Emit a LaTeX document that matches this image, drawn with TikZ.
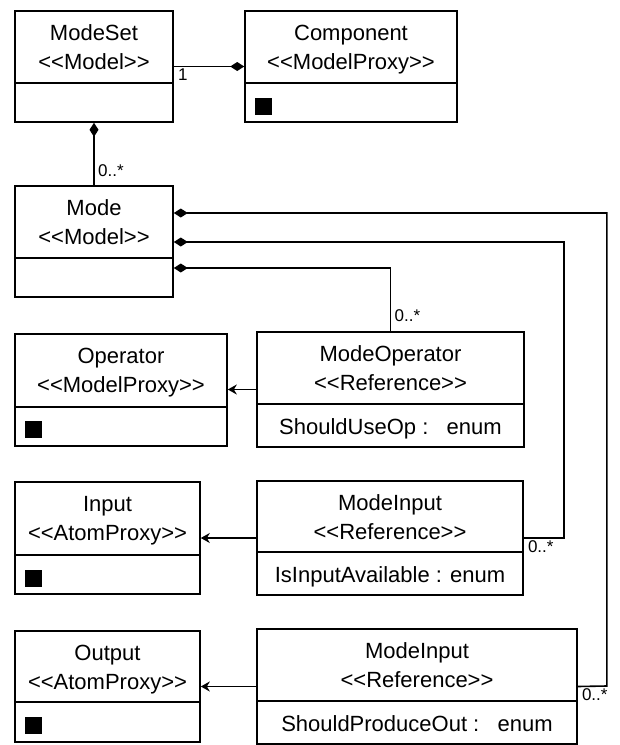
\documentclass[tikz,border=0pt]{standalone}
\usepackage{fontspec}
\setmainfont{Liberation Sans}
\usepackage{tikz}
\usetikzlibrary{arrows.meta,positioning}
% stereotype brackets, kept apart so they do not turn into guillemets
\newcommand{\stereo}[1]{<\kern0pt<#1>\kern0pt>}

\begin{document}
\begin{tikzpicture}[x=1pt, y=-1pt,
      cls/.style={draw, line width=1.6pt, inner sep=0pt},
      div/.style={line width=1.6pt},
      ttl/.style={anchor=base, inner sep=0pt, font=\fontsize{22}{26}\selectfont},
      mult/.style={anchor=base west, inner sep=0pt, font=\fontsize{17}{20}\selectfont},
      icon/.style={fill=black, minimum size=17pt, inner sep=0pt},
      comp/.style={{Diamond[length=14pt,width=9pt]}-, line width=1.6pt},
      ref/.style={-{Stealth[length=9pt,width=10pt]}, line width=1.6pt}
  ]
    \useasboundingbox (0,0) rectangle (620,745);

    % ModeSet
    \node[cls, minimum width=158pt, minimum height=111pt] (modeset) at (94,66.5) {};
    \node[ttl] (modeset-n) at ([yshift=-30pt]modeset.north) {ModeSet};
    \node[ttl] (modeset-s) at ([yshift=-59pt]modeset.north) {\stereo{Model}};
    \draw[div] ([yshift=-73pt]modeset.north west) -- ([yshift=-73pt]modeset.north east);

    % Component
    \node[cls, minimum width=212pt, minimum height=111pt] (component) at (351,66.5) {};
    \node[ttl] (component-n) at ([yshift=-30pt]component.north) {Component};
    \node[ttl] (component-s) at ([yshift=-59pt]component.north) {\stereo{ModelProxy}};
    \draw[div] ([yshift=-73pt]component.north west) -- ([yshift=-73pt]component.north east);
    \node[icon] (component-i) at ([xshift=19.5pt,yshift=-96pt]component.north west) {};

    % Mode
    \node[cls, minimum width=158pt, minimum height=111pt] (mode) at (94,241.5) {};
    \node[ttl] (mode-n) at ([yshift=-30pt]mode.north) {Mode};
    \node[ttl] (mode-s) at ([yshift=-59pt]mode.north) {\stereo{Model}};
    \draw[div] ([yshift=-73pt]mode.north west) -- ([yshift=-73pt]mode.north east);

    % Operator
    \node[cls, minimum width=212pt, minimum height=112pt] (operator) at (121,390) {};
    \node[ttl] (operator-n) at ([yshift=-30pt]operator.north) {Operator};
    \node[ttl] (operator-s) at ([yshift=-59pt]operator.north) {\stereo{ModelProxy}};
    \draw[div] ([yshift=-74pt]operator.north west) -- ([yshift=-74pt]operator.north east);
    \node[icon] (operator-i) at ([xshift=19.5pt,yshift=-96pt]operator.north west) {};

    % ModeOperator
    \node[cls, minimum width=267pt, minimum height=115pt] (modeoperator) at (390.5,389.5) {};
    \node[ttl] (modeoperator-n) at ([yshift=-30pt]modeoperator.north) {ModeOperator};
    \node[ttl] (modeoperator-s) at ([yshift=-59pt]modeoperator.north) {\stereo{Reference}};
    \draw[div] ([yshift=-73pt]modeoperator.north west) -- ([yshift=-73pt]modeoperator.north east);
    \node[ttl] (modeoperator-a) at ([yshift=-103pt]modeoperator.north) {ShouldUseOp :~~~enum};

    % Input
    \node[cls, minimum width=185pt, minimum height=112pt] (input) at (107.5,538) {};
    \node[ttl] (input-n) at ([yshift=-30pt]input.north) {Input};
    \node[ttl] (input-s) at ([yshift=-59pt]input.north) {\stereo{AtomProxy}};
    \draw[div] ([yshift=-74pt]input.north west) -- ([yshift=-74pt]input.north east);
    \node[icon] (input-i) at ([xshift=19.5pt,yshift=-97pt]input.north west) {};

    % ModeInput
    \node[cls, minimum width=266pt, minimum height=114pt] (modeinput) at (390,538) {};
    \node[ttl] (modeinput-n) at ([yshift=-30pt]modeinput.north) {ModeInput};
    \node[ttl] (modeinput-s) at ([yshift=-59pt]modeinput.north) {\stereo{Reference}};
    \draw[div] ([yshift=-72pt]modeinput.north west) -- ([yshift=-72pt]modeinput.north east);
    \node[ttl] (modeinput-a) at ([yshift=-102pt]modeinput.north) {IsInputAvailable : enum};

    % Output
    \node[cls, minimum width=185pt, minimum height=111pt] (output) at (107.5,686.5) {};
    \node[ttl] (output-n) at ([yshift=-30pt]output.north) {Output};
    \node[ttl] (output-s) at ([yshift=-59pt]output.north) {\stereo{AtomProxy}};
    \draw[div] ([yshift=-72pt]output.north west) -- ([yshift=-72pt]output.north east);
    \node[icon] (output-i) at ([xshift=19.5pt,yshift=-95.5pt]output.north west) {};

    % ModeInput (output side)
    \node[cls, minimum width=320pt, minimum height=115pt] (modeoutput) at (417,686.5) {};
    \node[ttl] (modeoutput-n) at ([yshift=-30pt]modeoutput.north) {ModeInput};
    \node[ttl] (modeoutput-s) at ([yshift=-59pt]modeoutput.north) {\stereo{Reference}};
    \draw[div] ([yshift=-73pt]modeoutput.north west) -- ([yshift=-73pt]modeoutput.north east);
    \node[ttl] (modeoutput-a) at ([yshift=-103pt]modeoutput.north) {ShouldProduceOut :~~~enum};

    % compositions
    \draw[comp] (component.west) -- (modeset.east);
    \node[mult] (m-comp) at ([xshift=4pt,yshift=-14pt]modeset.east) {1};
    \draw[comp] (modeset.south) -- (mode.north);
    \node[mult] (m-mode) at ([xshift=4pt,yshift=9pt]mode.north) {0..*};
    \draw[comp] ([yshift=-26.5pt]mode.east) -| (modeoperator.north);
    \node[mult] (m-mop) at ([xshift=4pt,yshift=10pt]modeoperator.north) {0..*};
    \draw[comp] ([yshift=-0.5pt]mode.east) -| ++(390,296) -- (modeinput.east);
    \node[mult] (m-min) at ([xshift=4pt,yshift=-14pt]modeinput.east) {0..*};
    \draw[comp] ([yshift=28.5pt]mode.east) -| ++(433,473) -- (modeoutput.east);
    \node[mult] (m-mout) at ([xshift=4pt,yshift=-14pt]modeoutput.east) {0..*};

    % references
    \draw[ref] (modeoperator.west) -- (operator.east |- modeoperator.west);
    \draw[ref] (modeinput.west) -- (input.east |- modeinput.west);
    \draw[ref] (modeoutput.west) -- (output.east |- modeoutput.west);
  \end{tikzpicture}
\end{document}
